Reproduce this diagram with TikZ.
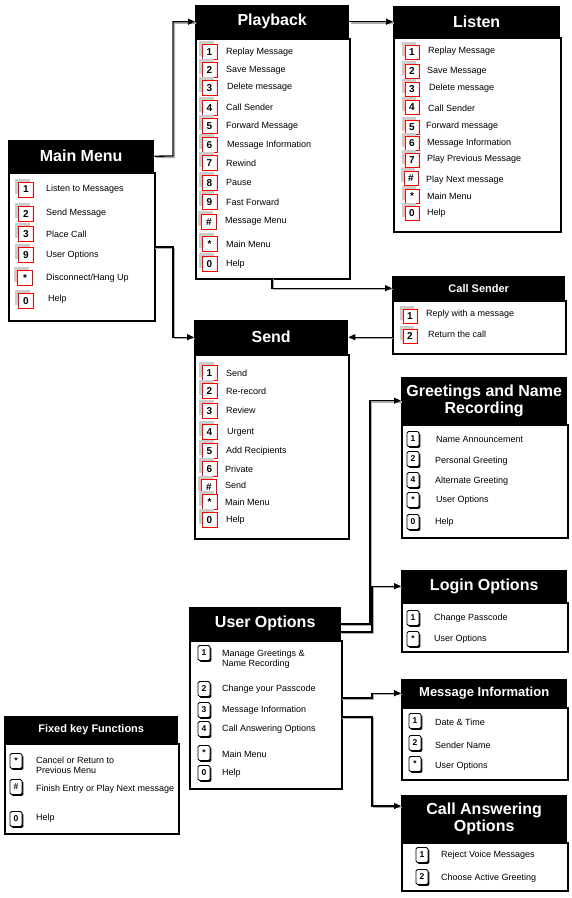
\documentclass[tikz,border=0pt]{standalone}
\usepackage{fontspec}
\setmainfont{Liberation Sans}
\usetikzlibrary{arrows.meta,calc}
\tikzset{
  ttl/.style={fill=black,text=white,font=\bfseries\fontsize{16}{18}\selectfont,inner sep=0pt,anchor=north west,align=center},
  bodybox/.style={draw=black,line width=1.6pt,fill=white,inner sep=0pt,anchor=north west},
  itm/.style={anchor=west,font=\fontsize{9}{10}\selectfont,inner sep=0pt,align=left},
  rkey/.style={draw=red,line width=0.9pt,fill=white,inner sep=0pt,font=\bfseries\fontsize{10}{11}\selectfont},
  bkey/.style={draw=black,line width=0.9pt,rounded corners=1.5pt,fill=white,minimum width=12pt,minimum height=15pt,inner sep=0pt,font=\bfseries\fontsize{8.5}{9}\selectfont},
  conn/.style={line width=1.3pt,-{Triangle[length=7pt,width=6pt]},
    preaction={draw=gray!65,line width=1.3pt,-,transform canvas={shift={(1.4pt,-1.4pt)}}}},
}
\newcommand{\rk}[5]{%
  \fill[gray!40] (#2-#5/2-3.5,#3-#5/2-3.5) rectangle (#2+#5/2-3.5,#3+#5/2-3.5);
  \node[rkey,minimum width=#5pt,minimum height=#5pt] (#1) at (#2,#3) {#4};}
\newcommand{\bk}[4]{%
  \fill[black,rounded corners=1.5pt] (#2-6+1.4,#3-7.5+1.4) rectangle (#2+6+1.4,#3+7.5+1.4);
  \node[bkey] (#1) at (#2,#3) {#4};}
\begin{document}
\begin{tikzpicture}[x=1pt,y=-1pt]
\useasboundingbox (0,0) rectangle (572,898);
\fill[white] (0,0) rectangle (572,898);

% ---------- Main Menu
\node[bodybox,minimum width=146pt,minimum height=148pt] (mmb) at (8,172) {};
\node[ttl,minimum width=146pt,minimum height=32pt] (mmt) at (8,140) {Main Menu};
\rk{mk1}{26}{189.5}{1}{15}
\rk{mk2}{26}{214}{2}{15}
\rk{mk3}{26}{234}{3}{15}
\rk{mk4}{26}{255}{9}{15}
\rk{mk5}{25}{278}{*}{15}
\rk{mk6}{26}{301}{0}{15}
\node[itm] (mt1) at (46,189) {Listen to Messages};
\node[itm] (mt2) at (46,213) {Send Message};
\node[itm] (mt3) at (46,234) {Place Call};
\node[itm] (mt4) at (46,255) {User Options};
\node[itm] (mt5) at (46,278) {Disconnect/Hang Up};
\node[itm] (mt6) at (48,299) {Help};

% ---------- Playback
\node[bodybox,minimum width=154pt,minimum height=240pt] (pbb) at (195,38) {};
\node[ttl,minimum width=154pt,minimum height=33pt] (pbt) at (195,5) {Playback};
\rk{pk1}{209.5}{52}{1}{15}
\rk{pk2}{209.5}{70}{2}{15}
\rk{pk3}{209.5}{88}{3}{15}
\rk{pk4}{209.5}{108}{4}{15}
\rk{pk5}{209.5}{126}{5}{15}
\rk{pk6}{209.5}{145}{6}{15}
\rk{pk7}{209.5}{163}{7}{15}
\rk{pk8}{209.5}{183}{8}{15}
\rk{pk9}{209.5}{202}{9}{15}
\rk{pk10}{209}{222}{\#}{15}
\rk{pk11}{209.5}{244}{*}{15}
\rk{pk12}{209.5}{264}{0}{15}
\node[itm] (pt1) at (226,52) {Replay Message};
\node[itm] (pt2) at (226,70) {Save Message};
\node[itm] (pt3) at (227,87) {Delete message};
\node[itm] (pt4) at (226,107) {Call Sender};
\node[itm] (pt5) at (226,126) {Forward Message};
\node[itm] (pt6) at (227,145) {Message Information};
\node[itm] (pt7) at (226,163) {Rewind};
\node[itm] (pt8) at (226,182) {Pause};
\node[itm] (pt9) at (226,202) {Fast Forward};
\node[itm] (pt10) at (225,221) {Message Menu};
\node[itm] (pt11) at (226,244) {Main Menu};
\node[itm] (pt12) at (226,264) {Help};

% ---------- Listen
\node[bodybox,minimum width=167pt,minimum height=194pt] (lsb) at (393,37) {};
\node[ttl,minimum width=167pt,minimum height=31pt] (lst) at (393,6) {Listen};
\rk{lk1}{412}{52}{1}{14}
\rk{lk2}{412}{71}{2}{14}
\rk{lk3}{412}{89}{3}{14}
\rk{lk4}{412}{107}{4}{14}
\rk{lk5}{412}{127}{5}{14}
\rk{lk6}{412}{143}{6}{14}
\rk{lk7}{412}{160}{7}{14}
\rk{lk8}{411}{178}{\#}{14}
\rk{lk9}{412}{196}{*}{14}
\rk{lk10}{412}{213}{0}{14}
\node[itm] (lt1) at (428,51) {Replay Message};
\node[itm] (lt2) at (427,71) {Save Message};
\node[itm] (lt3) at (429,88) {Delete message};
\node[itm] (lt4) at (428,108) {Call Sender};
\node[itm] (lt5) at (426,126) {Forward message};
\node[itm] (lt6) at (427,143) {Message Information};
\node[itm] (lt7) at (427,159) {Play Previous Message};
\node[itm] (lt8) at (426,180) {Play Next message};
\node[itm] (lt9) at (427,196) {Main Menu};
\node[itm] (lt10) at (427,213) {Help};

% ---------- Call Sender
\node[bodybox,minimum width=173pt,minimum height=53pt] (csb) at (392,300) {};
\node[ttl,minimum width=173pt,minimum height=24pt,font=\bfseries\fontsize{11}{12}\selectfont] (cst) at (392,276) {Call Sender};
\rk{ck1}{410}{316}{1}{14}
\rk{ck2}{410}{336}{2}{14}
\node[itm] (ct1) at (426,314) {Reply with a message};
\node[itm] (ct2) at (428,334) {Return the call};

% ---------- Send
\node[bodybox,minimum width=154pt,minimum height=184pt] (sdb) at (194,354) {};
\node[ttl,minimum width=154pt,minimum height=34pt] (sdt) at (194,320) {Send};
\rk{sk1}{209.5}{373}{1}{15}
\rk{sk2}{209.5}{391}{2}{15}
\rk{sk3}{209.5}{411}{3}{15}
\rk{sk4}{209.5}{432}{4}{15}
\rk{sk5}{209.5}{451}{5}{15}
\rk{sk6}{209.5}{469}{6}{15}
\rk{sk7}{209}{487}{\#}{15}
\rk{sk8}{209.5}{502}{*}{15}
\rk{sk9}{209.5}{520}{0}{15}
\node[itm] (st1) at (226,373) {Send};
\node[itm] (st2) at (226,391) {Re-record};
\node[itm] (st3) at (226,410) {Review};
\node[itm] (st4) at (227,432) {Urgent};
\node[itm] (st5) at (226,451) {Add Recipients};
\node[itm] (st6) at (225,469) {Private};
\node[itm] (st7) at (225,485) {Send};
\node[itm] (st8) at (225,502) {Main Menu};
\node[itm] (st9) at (226,520) {Help};

% ---------- Greetings and Name Recording
\node[bodybox,minimum width=166pt,minimum height=113pt] (grb) at (401,424) {};
\node[ttl,minimum width=166pt,minimum height=47pt] (grt) at (401,377) {Greetings and Name\\[-1pt]Recording};
\bk{gk1}{413}{439}{1}
\bk{gk2}{413}{459}{2}
\bk{gk3}{413}{480}{4}
\bk{gk4}{413}{500}{*}
\bk{gk5}{413}{522}{0}
\node[itm] (gt1) at (436,439) {Name Announcement};
\node[itm] (gt2) at (435,461) {Personal Greeting};
\node[itm] (gt3) at (435,481) {Alternate Greeting};
\node[itm] (gt4) at (436,500) {User Options};
\node[itm] (gt5) at (435,522) {Help};

% ---------- Login Options
\node[bodybox,minimum width=166pt,minimum height=49pt] (lgb) at (401,602) {};
\node[ttl,minimum width=166pt,minimum height=32pt] (lgt) at (401,570) {Login Options};
\bk{ok1}{413}{618}{1}
\bk{ok2}{413}{639}{*}
\node[itm] (ot1) at (434,618) {Change Passcode};
\node[itm] (ot2) at (434,639) {User Options};

% ---------- Message Information
\node[bodybox,minimum width=166pt,minimum height=72pt] (mib) at (401,707) {};
\node[ttl,minimum width=166pt,minimum height=28pt,font=\bfseries\fontsize{13}{15}\selectfont] (mit) at (401,679) {Message Information};
\bk{ik1}{415}{721}{1}
\bk{ik2}{415}{743}{2}
\bk{ik3}{415}{764}{*}
\node[itm] (it1) at (435,722) {Date \& Time};
\node[itm] (it2) at (435,745) {Sender Name};
\node[itm] (it3) at (435,766) {User Options};

% ---------- Call Answering Options
\node[bodybox,minimum width=166pt,minimum height=48pt] (cab) at (401,842) {};
\node[ttl,minimum width=166pt,minimum height=47pt] (cat) at (401,795) {Call Answering\\[-1pt]Options};
\bk{ak1}{422}{855}{1}
\bk{ak2}{422}{877}{2}
\node[itm] (at1) at (441,855) {Reject Voice Messages};
\node[itm] (at2) at (441,878) {Choose Active Greeting};

% ---------- User Options
\node[bodybox,minimum width=152pt,minimum height=148pt] (uob) at (189,640) {};
\node[ttl,minimum width=152pt,minimum height=33pt] (uot) at (189,607) {User Options};
\bk{uk1}{204}{653}{1}
\bk{uk2}{204}{689}{2}
\bk{uk3}{204}{710}{3}
\bk{uk4}{204}{729}{4}
\bk{uk5}{204}{753}{*}
\bk{uk6}{204}{773}{0}
\node[itm,font=\fontsize{9}{10}\selectfont] (ut1) at (222,659) {Manage Greetings \&\\Name Recording};
\node[itm] (ut2) at (222,689) {Change your Passcode};
\node[itm] (ut3) at (222,710) {Message Information};
\node[itm] (ut4) at (222,729) {Call Answering Options};
\node[itm] (ut5) at (222,754) {Main Menu};
\node[itm] (ut6) at (222,773) {Help};

% ---------- Fixed key Functions
\node[bodybox,minimum width=174pt,minimum height=90pt] (fkb) at (4,743) {};
\node[ttl,minimum width=174pt,minimum height=27pt,font=\bfseries\fontsize{11}{12}\selectfont] (fkt) at (4,716) {Fixed key Functions};
\bk{fk1}{16}{761}{*}
\bk{fk2}{16}{787}{\#}
\bk{fk3}{16}{819}{0}
\node[itm] (ft1) at (36,765) {Cancel or Return to\\Previous Menu};
\node[itm] (ft2) at (36,789) {Finish Entry or Play Next message};
\node[itm] (ft3) at (36,818) {Help};

% ---------- connectors
\coordinate (mmo2) at (154,247);
\coordinate (pbo) at (272,278);
\coordinate (uoo1) at (341,624);
\coordinate (uoo2) at (341,632);
\coordinate (uoo3) at (341,698);
\coordinate (uoo4) at (341,717);
\draw[conn] (mmt.east) -- (173,156) |- (pbt.west);
\draw[conn] (mmo2) -- (173,247) |- (sdt.west);
\draw[conn] (pbt.east) -- (lst.west);
\draw[conn] (pbo) |- (cst.west);
\draw[conn] (csb.west |- sdt.east) -- (sdt.east);
\draw[conn] (uoo1) -- (370,624) |- (grt.west);
\draw[conn] (uoo2) -- (372,632) |- (lgt.west);
\draw[conn] (uoo3) -- (372,698) |- (mit.west);
\draw[conn] (uoo4) -- (372,717) |- ($(cat.north west)+(0,11)$);
\end{tikzpicture}
\end{document}
